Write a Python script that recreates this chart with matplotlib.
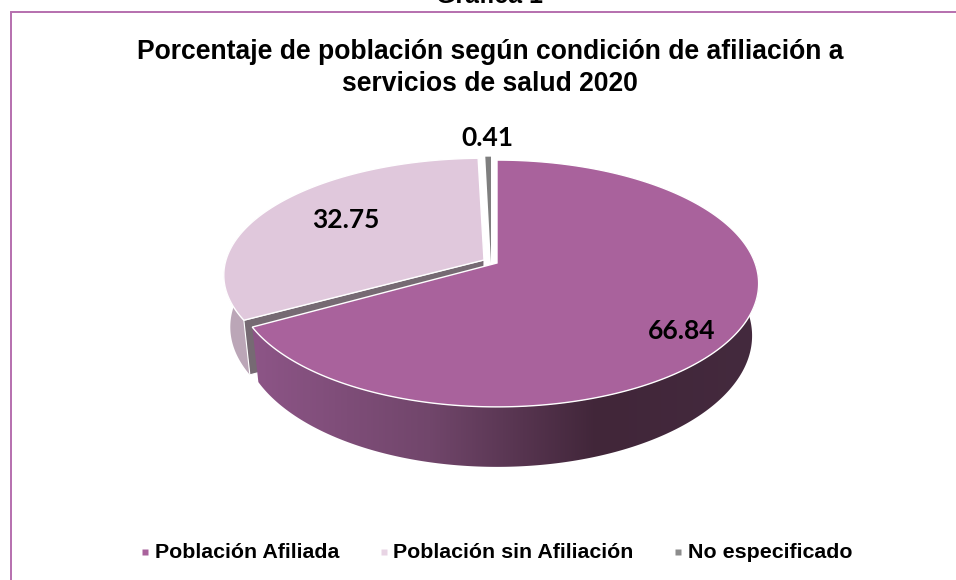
#!/usr/bin/env python3
import numpy as np
import matplotlib
matplotlib.use('Agg')
import matplotlib.pyplot as plt
from matplotlib.colors import LinearSegmentedColormap
from matplotlib.patches import Polygon

#### Data
categories = ['Población Afiliada', 'Población sin Afiliación', 'No especificado']
values = [66.84, 32.75, 0.41]
labels = ['66.84', '32.75', '0.41']
colors = ['#a9629c', '#e0c8dc', '#7f7f7f']
marker_colors = ['#a9629c', '#e8d4e4', '#8c8c8c']

title = 'Porcentaje de población según condición de afiliación a\nservicios de salud 2020'
heading = 'Gráfica 1'

#### Pie geometry, in pixels
apex = [(497, 263), (484, 260), (491, 263)]
persp = [(120, -0.166), (115, -0.13), (124, -0.166)]   # k makes the front look closer
rx = 258
shrink = 0.975   # bottom rim is a bit narrower than the top one


def disc(ang, i):
    # ang in degrees, clockwise from the top
    t = np.radians(ang)
    u, v = np.sin(t), -np.cos(t)
    a, k = persp[i]
    d = 1 + k * v
    return apex[i][0] + rx * u / d, apex[i][1] + a * v / d


def depth(y):
    # the wall gets taller towards the front
    return 60 - (407 - y) * 0.0625


def wall_poly(x, y, i):
    xb = apex[i][0] + (x - apex[i][0]) * shrink
    return np.r_[np.c_[x, y], np.c_[xb[::-1], y[::-1] + depth(y[::-1])]]


def top_poly(th, i):
    x, y = disc(th, i)
    return np.c_[np.r_[apex[i][0], x], np.r_[apex[i][1], y]]


fig = plt.figure(figsize=(9.56, 5.8), dpi=100)
ax = fig.add_axes([0, 0, 1, 1])
ax.set_xlim(0, 956)
ax.set_ylim(580, 0)
ax.axis('off')

# frame, open on the right and at the bottom
ax.plot([11, 11, 956], [580, 12, 12], color='#b56fae', lw=1.4, solid_joinstyle='miter')
ax.text(490, 3, heading, ha='center', va='baseline', family='Liberation Sans',
        weight='bold', fontsize=18)
ax.text(490, 68, title, ha='center', va='center', family='Liberation Sans',
        weight='bold', fontsize=19.1, linespacing=1.3)

edges = np.cumsum([0] + values) / sum(values) * 360

# sliver at the back
th = np.linspace(edges[2], edges[3], 20)
ax.add_patch(Polygon(top_poly(th, 2), fc=colors[2], ec='none', zorder=4))

# light slice: outer wall, cut face, top
th = np.linspace(edges[1], 295, 100)
x, y = disc(th, 1)
ax.add_patch(Polygon(wall_poly(x, y, 1), fc='#bba6b7', ec='none', zorder=2))
x0, y0 = disc(edges[1], 1)
ax.add_patch(Polygon([(x0, y0), apex[1], (apex[1][0], apex[1][1] + depth(y0)),
                      (apex[1][0] + (x0 - apex[1][0]) * shrink, y0 + depth(y0))],
                     fc='#766a73', ec='white', lw=0.8, zorder=3))
ax.add_patch(Polygon(top_poly(np.linspace(edges[1], edges[2], 200), 1),
                     fc=colors[1], ec='white', lw=1, zorder=4))

# big slice: wall with a gradient from left to right
th = np.linspace(75, edges[1], 300)
x, y = disc(th, 0)
wall = Polygon(wall_poly(x, y, 0), fc='none', ec='none', zorder=5)
ax.add_patch(wall)
cmap = LinearSegmentedColormap.from_list(
    'wall', [(0, '#8d5587'), (0.35, '#71466b'), (0.68, '#412639'), (1, '#442a3e')])
im = ax.imshow(np.linspace(0, 1, 256)[None, :], cmap=cmap, aspect='auto',
               extent=[x.min(), x.max(), y.max() + 60, 250], zorder=5)
im.set_clip_path(wall)
ax.set_xlim(0, 956)
ax.set_ylim(580, 0)

ax.add_patch(Polygon(top_poly(np.linspace(edges[0], edges[1], 300), 0),
                     fc=colors[0], ec='white', lw=1, zorder=6))

# data labels
label_pos = [(682, 331), (346, 220), (487, 138)]
for lab, pos in zip(labels, label_pos):
    ax.text(pos[0], pos[1], lab, ha='center', va='center', family='Lato',
            weight='bold', fontsize=19, color='black', zorder=7)

# legend
marker_x = [145, 384, 678]
text_x = [155, 393, 688]
for cat, col, mx, tx in zip(categories, marker_colors, marker_x, text_x):
    ax.plot(mx, 552, 's', color=col, ms=4, mec='none')
    ax.text(tx, 558, cat, ha='left', va='baseline', family='Liberation Sans',
            weight='bold', fontsize=15.4)

fig.savefig('out.png', dpi=100)
